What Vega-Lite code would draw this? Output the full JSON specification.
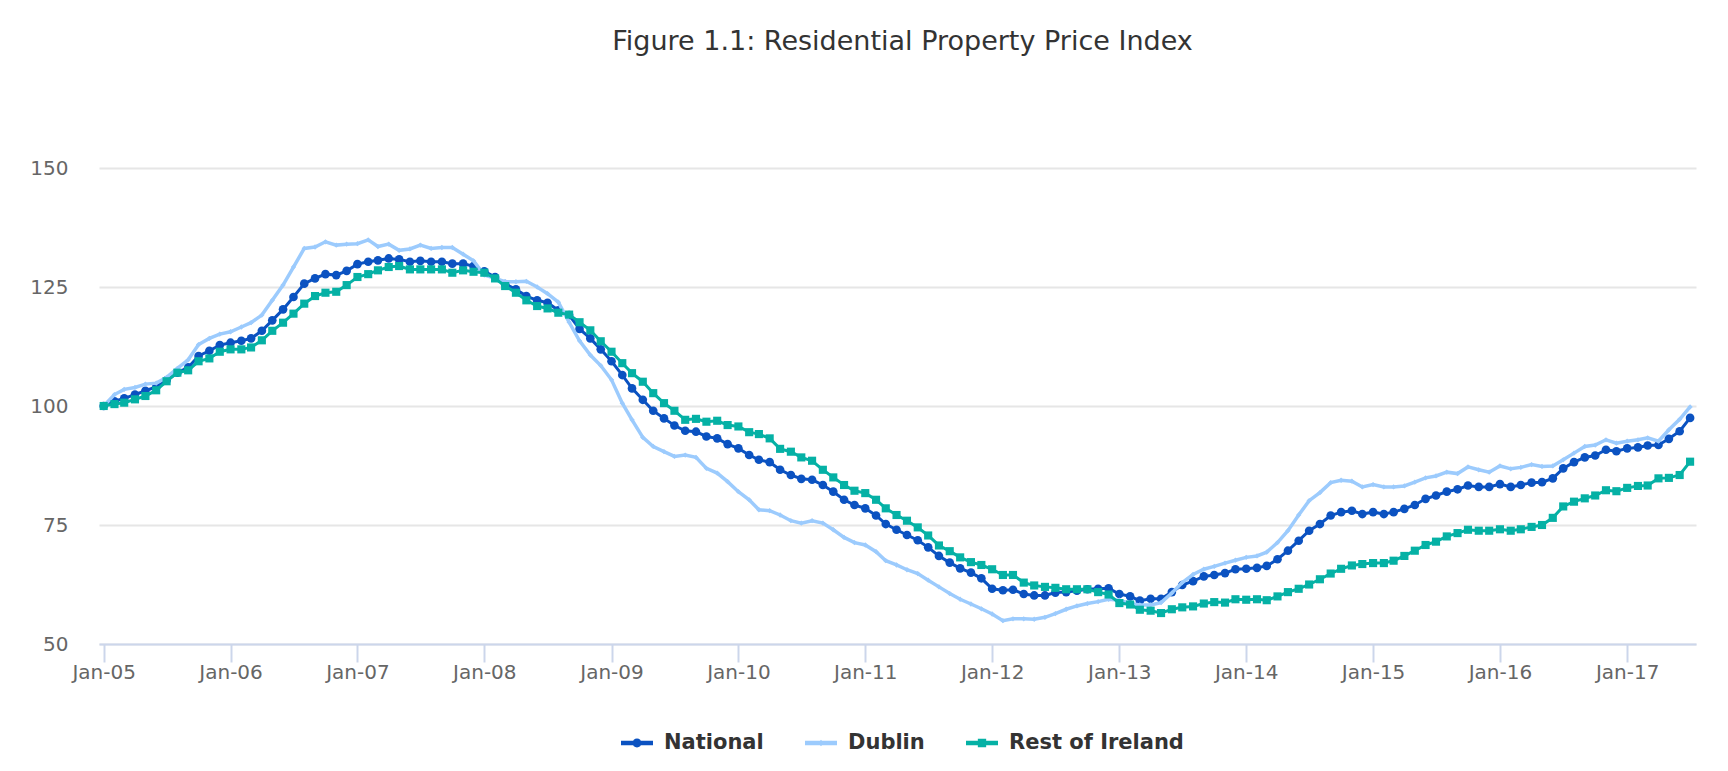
{
  "$schema": "https://vega.github.io/schema/vega-lite/v6.json",
  "description": "Residential Property Price Index, Jan 2005 = 100, National / Dublin / Rest of Ireland",
  "autosize": {"type": "none"},
  "width": 1597,
  "height": 476,
  "padding": {"left": 99, "top": 168, "right": 32, "bottom": 127},
  "background": "white",
  "config": {"view": {"stroke": null}, "font": "DejaVu Sans"},
  "title": {
    "text": "Figure 1.1: Residential Property Price Index",
    "font": "DejaVu Sans",
    "fontSize": 27,
    "fontWeight": "normal",
    "color": "#333333",
    "anchor": "middle",
    "frame": "group",
    "baseline": "alphabetic",
    "offset": 81,
    "dx": 5
  },
  "data": {
    "values": [
      {"date": "2005-01-01", "National": 100.0, "Dublin": 100.0, "Rest of Ireland": 100.0},
      {"date": "2005-02-01", "National": 101.0, "Dublin": 102.4, "Rest of Ireland": 100.4},
      {"date": "2005-03-01", "National": 101.6, "Dublin": 103.5, "Rest of Ireland": 100.7},
      {"date": "2005-04-01", "National": 102.4, "Dublin": 103.9, "Rest of Ireland": 101.4},
      {"date": "2005-05-01", "National": 103.2, "Dublin": 104.6, "Rest of Ireland": 102.1},
      {"date": "2005-06-01", "National": 104.0, "Dublin": 104.8, "Rest of Ireland": 103.3},
      {"date": "2005-07-01", "National": 105.4, "Dublin": 106.0, "Rest of Ireland": 105.2},
      {"date": "2005-08-01", "National": 107.0, "Dublin": 107.9, "Rest of Ireland": 107.0},
      {"date": "2005-09-01", "National": 108.1, "Dublin": 109.7, "Rest of Ireland": 107.5},
      {"date": "2005-10-01", "National": 110.5, "Dublin": 112.9, "Rest of Ireland": 109.4},
      {"date": "2005-11-01", "National": 111.6, "Dublin": 114.2, "Rest of Ireland": 110.0},
      {"date": "2005-12-01", "National": 112.8, "Dublin": 115.1, "Rest of Ireland": 111.4},
      {"date": "2006-01-01", "National": 113.3, "Dublin": 115.6, "Rest of Ireland": 111.9},
      {"date": "2006-02-01", "National": 113.7, "Dublin": 116.6, "Rest of Ireland": 111.9},
      {"date": "2006-03-01", "National": 114.2, "Dublin": 117.5, "Rest of Ireland": 112.3},
      {"date": "2006-04-01", "National": 115.8, "Dublin": 119.1, "Rest of Ireland": 113.8},
      {"date": "2006-05-01", "National": 118.0, "Dublin": 122.2, "Rest of Ireland": 115.8},
      {"date": "2006-06-01", "National": 120.3, "Dublin": 125.4, "Rest of Ireland": 117.5},
      {"date": "2006-07-01", "National": 122.9, "Dublin": 129.2, "Rest of Ireland": 119.4},
      {"date": "2006-08-01", "National": 125.7, "Dublin": 133.1, "Rest of Ireland": 121.5},
      {"date": "2006-09-01", "National": 126.8, "Dublin": 133.4, "Rest of Ireland": 123.1},
      {"date": "2006-10-01", "National": 127.7, "Dublin": 134.5, "Rest of Ireland": 123.8},
      {"date": "2006-11-01", "National": 127.5, "Dublin": 133.8, "Rest of Ireland": 124.0},
      {"date": "2006-12-01", "National": 128.4, "Dublin": 134.0, "Rest of Ireland": 125.4},
      {"date": "2007-01-01", "National": 129.8, "Dublin": 134.1, "Rest of Ireland": 127.1},
      {"date": "2007-02-01", "National": 130.3, "Dublin": 134.9, "Rest of Ireland": 127.7},
      {"date": "2007-03-01", "National": 130.6, "Dublin": 133.5, "Rest of Ireland": 128.5},
      {"date": "2007-04-01", "National": 131.0, "Dublin": 134.0, "Rest of Ireland": 129.2},
      {"date": "2007-05-01", "National": 130.8, "Dublin": 132.7, "Rest of Ireland": 129.4},
      {"date": "2007-06-01", "National": 130.3, "Dublin": 133.0, "Rest of Ireland": 128.7},
      {"date": "2007-07-01", "National": 130.5, "Dublin": 133.8, "Rest of Ireland": 128.7},
      {"date": "2007-08-01", "National": 130.3, "Dublin": 133.1, "Rest of Ireland": 128.7},
      {"date": "2007-09-01", "National": 130.3, "Dublin": 133.3, "Rest of Ireland": 128.7},
      {"date": "2007-10-01", "National": 129.9, "Dublin": 133.3, "Rest of Ireland": 128.0},
      {"date": "2007-11-01", "National": 129.9, "Dublin": 131.9, "Rest of Ireland": 128.5},
      {"date": "2007-12-01", "National": 129.4, "Dublin": 130.5, "Rest of Ireland": 128.2},
      {"date": "2008-01-01", "National": 128.3, "Dublin": 127.5, "Rest of Ireland": 128.0},
      {"date": "2008-02-01", "National": 127.1, "Dublin": 126.8, "Rest of Ireland": 126.8},
      {"date": "2008-03-01", "National": 125.6, "Dublin": 126.1, "Rest of Ireland": 125.2},
      {"date": "2008-04-01", "National": 124.5, "Dublin": 126.1, "Rest of Ireland": 123.8},
      {"date": "2008-05-01", "National": 123.1, "Dublin": 126.2, "Rest of Ireland": 122.2},
      {"date": "2008-06-01", "National": 122.2, "Dublin": 125.0, "Rest of Ireland": 121.0},
      {"date": "2008-07-01", "National": 121.7, "Dublin": 123.6, "Rest of Ireland": 120.5},
      {"date": "2008-08-01", "National": 120.1, "Dublin": 121.8, "Rest of Ireland": 119.6},
      {"date": "2008-09-01", "National": 119.1, "Dublin": 117.6, "Rest of Ireland": 119.2},
      {"date": "2008-10-01", "National": 116.2, "Dublin": 113.7, "Rest of Ireland": 117.6},
      {"date": "2008-11-01", "National": 114.2, "Dublin": 110.7, "Rest of Ireland": 115.9},
      {"date": "2008-12-01", "National": 111.9, "Dublin": 108.5, "Rest of Ireland": 113.6},
      {"date": "2009-01-01", "National": 109.4, "Dublin": 105.5, "Rest of Ireland": 111.4},
      {"date": "2009-02-01", "National": 106.5, "Dublin": 100.6, "Rest of Ireland": 109.0},
      {"date": "2009-03-01", "National": 103.7, "Dublin": 97.1, "Rest of Ireland": 106.9},
      {"date": "2009-04-01", "National": 101.3, "Dublin": 93.4, "Rest of Ireland": 105.1},
      {"date": "2009-05-01", "National": 99.0, "Dublin": 91.5, "Rest of Ireland": 102.7},
      {"date": "2009-06-01", "National": 97.4, "Dublin": 90.4, "Rest of Ireland": 100.6},
      {"date": "2009-07-01", "National": 95.9, "Dublin": 89.4, "Rest of Ireland": 99.0},
      {"date": "2009-08-01", "National": 94.8, "Dublin": 89.7, "Rest of Ireland": 97.1},
      {"date": "2009-09-01", "National": 94.6, "Dublin": 89.2, "Rest of Ireland": 97.3},
      {"date": "2009-10-01", "National": 93.6, "Dublin": 86.9, "Rest of Ireland": 96.7},
      {"date": "2009-11-01", "National": 93.2, "Dublin": 85.9, "Rest of Ireland": 96.9},
      {"date": "2009-12-01", "National": 92.0, "Dublin": 84.1, "Rest of Ireland": 96.0},
      {"date": "2010-01-01", "National": 91.1, "Dublin": 82.0, "Rest of Ireland": 95.7},
      {"date": "2010-02-01", "National": 89.7, "Dublin": 80.3, "Rest of Ireland": 94.5},
      {"date": "2010-03-01", "National": 88.7, "Dublin": 78.2, "Rest of Ireland": 94.1},
      {"date": "2010-04-01", "National": 88.2, "Dublin": 78.0, "Rest of Ireland": 93.2},
      {"date": "2010-05-01", "National": 86.6, "Dublin": 77.1, "Rest of Ireland": 91.0},
      {"date": "2010-06-01", "National": 85.5, "Dublin": 75.9, "Rest of Ireland": 90.4},
      {"date": "2010-07-01", "National": 84.7, "Dublin": 75.4, "Rest of Ireland": 89.2},
      {"date": "2010-08-01", "National": 84.5, "Dublin": 75.9, "Rest of Ireland": 88.5},
      {"date": "2010-09-01", "National": 83.4, "Dublin": 75.4, "Rest of Ireland": 86.6},
      {"date": "2010-10-01", "National": 82.0, "Dublin": 74.0, "Rest of Ireland": 85.0},
      {"date": "2010-11-01", "National": 80.3, "Dublin": 72.4, "Rest of Ireland": 83.4},
      {"date": "2010-12-01", "National": 79.2, "Dublin": 71.3, "Rest of Ireland": 82.2},
      {"date": "2011-01-01", "National": 78.5, "Dublin": 70.8, "Rest of Ireland": 81.7},
      {"date": "2011-02-01", "National": 77.0, "Dublin": 69.4, "Rest of Ireland": 80.3},
      {"date": "2011-03-01", "National": 75.2, "Dublin": 67.5, "Rest of Ireland": 78.5},
      {"date": "2011-04-01", "National": 74.0, "Dublin": 66.6, "Rest of Ireland": 77.1},
      {"date": "2011-05-01", "National": 72.9, "Dublin": 65.6, "Rest of Ireland": 75.9},
      {"date": "2011-06-01", "National": 71.8, "Dublin": 64.8, "Rest of Ireland": 74.5},
      {"date": "2011-07-01", "National": 70.3, "Dublin": 63.4, "Rest of Ireland": 72.8},
      {"date": "2011-08-01", "National": 68.5, "Dublin": 62.0, "Rest of Ireland": 70.7},
      {"date": "2011-09-01", "National": 67.1, "Dublin": 60.6, "Rest of Ireland": 69.5},
      {"date": "2011-10-01", "National": 65.9, "Dublin": 59.4, "Rest of Ireland": 68.2},
      {"date": "2011-11-01", "National": 65.0, "Dublin": 58.4, "Rest of Ireland": 67.2},
      {"date": "2011-12-01", "National": 63.8, "Dublin": 57.4, "Rest of Ireland": 66.6},
      {"date": "2012-01-01", "National": 61.6, "Dublin": 56.3, "Rest of Ireland": 65.7},
      {"date": "2012-02-01", "National": 61.3, "Dublin": 54.9, "Rest of Ireland": 64.5},
      {"date": "2012-03-01", "National": 61.4, "Dublin": 55.3, "Rest of Ireland": 64.5},
      {"date": "2012-04-01", "National": 60.5, "Dublin": 55.3, "Rest of Ireland": 62.9},
      {"date": "2012-05-01", "National": 60.2, "Dublin": 55.2, "Rest of Ireland": 62.3},
      {"date": "2012-06-01", "National": 60.2, "Dublin": 55.6, "Rest of Ireland": 62.0},
      {"date": "2012-07-01", "National": 60.8, "Dublin": 56.4, "Rest of Ireland": 61.8},
      {"date": "2012-08-01", "National": 60.9, "Dublin": 57.3, "Rest of Ireland": 61.5},
      {"date": "2012-09-01", "National": 61.2, "Dublin": 58.0, "Rest of Ireland": 61.5},
      {"date": "2012-10-01", "National": 61.5, "Dublin": 58.5, "Rest of Ireland": 61.5},
      {"date": "2012-11-01", "National": 61.6, "Dublin": 58.9, "Rest of Ireland": 60.9},
      {"date": "2012-12-01", "National": 61.7, "Dublin": 59.4, "Rest of Ireland": 60.4},
      {"date": "2013-01-01", "National": 60.5, "Dublin": 59.2, "Rest of Ireland": 58.6},
      {"date": "2013-02-01", "National": 60.0, "Dublin": 58.5, "Rest of Ireland": 58.3},
      {"date": "2013-03-01", "National": 59.1, "Dublin": 58.2, "Rest of Ireland": 57.2},
      {"date": "2013-04-01", "National": 59.5, "Dublin": 58.2, "Rest of Ireland": 57.0},
      {"date": "2013-05-01", "National": 59.5, "Dublin": 58.7, "Rest of Ireland": 56.5},
      {"date": "2013-06-01", "National": 60.9, "Dublin": 60.7, "Rest of Ireland": 57.3},
      {"date": "2013-07-01", "National": 62.4, "Dublin": 62.9, "Rest of Ireland": 57.7},
      {"date": "2013-08-01", "National": 63.2, "Dublin": 64.6, "Rest of Ireland": 57.9},
      {"date": "2013-09-01", "National": 64.2, "Dublin": 65.7, "Rest of Ireland": 58.5},
      {"date": "2013-10-01", "National": 64.5, "Dublin": 66.3, "Rest of Ireland": 58.8},
      {"date": "2013-11-01", "National": 64.9, "Dublin": 67.0, "Rest of Ireland": 58.7},
      {"date": "2013-12-01", "National": 65.7, "Dublin": 67.6, "Rest of Ireland": 59.4},
      {"date": "2014-01-01", "National": 65.8, "Dublin": 68.2, "Rest of Ireland": 59.3},
      {"date": "2014-02-01", "National": 66.0, "Dublin": 68.5, "Rest of Ireland": 59.4},
      {"date": "2014-03-01", "National": 66.4, "Dublin": 69.3, "Rest of Ireland": 59.2},
      {"date": "2014-04-01", "National": 67.8, "Dublin": 71.3, "Rest of Ireland": 60.0},
      {"date": "2014-05-01", "National": 69.6, "Dublin": 73.8, "Rest of Ireland": 60.9},
      {"date": "2014-06-01", "National": 71.7, "Dublin": 77.1, "Rest of Ireland": 61.6},
      {"date": "2014-07-01", "National": 73.8, "Dublin": 80.1, "Rest of Ireland": 62.5},
      {"date": "2014-08-01", "National": 75.2, "Dublin": 81.8, "Rest of Ireland": 63.6},
      {"date": "2014-09-01", "National": 77.0, "Dublin": 83.9, "Rest of Ireland": 64.8},
      {"date": "2014-10-01", "National": 77.7, "Dublin": 84.4, "Rest of Ireland": 65.8},
      {"date": "2014-11-01", "National": 78.0, "Dublin": 84.2, "Rest of Ireland": 66.5},
      {"date": "2014-12-01", "National": 77.3, "Dublin": 83.0, "Rest of Ireland": 66.8},
      {"date": "2015-01-01", "National": 77.7, "Dublin": 83.5, "Rest of Ireland": 67.0},
      {"date": "2015-02-01", "National": 77.3, "Dublin": 83.0, "Rest of Ireland": 67.0},
      {"date": "2015-03-01", "National": 77.7, "Dublin": 83.0, "Rest of Ireland": 67.5},
      {"date": "2015-04-01", "National": 78.4, "Dublin": 83.2, "Rest of Ireland": 68.5},
      {"date": "2015-05-01", "National": 79.2, "Dublin": 84.0, "Rest of Ireland": 69.6},
      {"date": "2015-06-01", "National": 80.5, "Dublin": 84.9, "Rest of Ireland": 70.8},
      {"date": "2015-07-01", "National": 81.2, "Dublin": 85.3, "Rest of Ireland": 71.5},
      {"date": "2015-08-01", "National": 82.0, "Dublin": 86.1, "Rest of Ireland": 72.6},
      {"date": "2015-09-01", "National": 82.5, "Dublin": 85.8, "Rest of Ireland": 73.3},
      {"date": "2015-10-01", "National": 83.3, "Dublin": 87.2, "Rest of Ireland": 74.0},
      {"date": "2015-11-01", "National": 83.0, "Dublin": 86.6, "Rest of Ireland": 73.8},
      {"date": "2015-12-01", "National": 83.0, "Dublin": 86.1, "Rest of Ireland": 73.8},
      {"date": "2016-01-01", "National": 83.6, "Dublin": 87.4, "Rest of Ireland": 74.1},
      {"date": "2016-02-01", "National": 83.0, "Dublin": 86.8, "Rest of Ireland": 73.8},
      {"date": "2016-03-01", "National": 83.4, "Dublin": 87.1, "Rest of Ireland": 74.1},
      {"date": "2016-04-01", "National": 83.9, "Dublin": 87.7, "Rest of Ireland": 74.6},
      {"date": "2016-05-01", "National": 84.0, "Dublin": 87.3, "Rest of Ireland": 75.0},
      {"date": "2016-06-01", "National": 84.8, "Dublin": 87.4, "Rest of Ireland": 76.5},
      {"date": "2016-07-01", "National": 86.9, "Dublin": 88.7, "Rest of Ireland": 78.9},
      {"date": "2016-08-01", "National": 88.2, "Dublin": 90.1, "Rest of Ireland": 79.9},
      {"date": "2016-09-01", "National": 89.2, "Dublin": 91.5, "Rest of Ireland": 80.6},
      {"date": "2016-10-01", "National": 89.6, "Dublin": 91.8, "Rest of Ireland": 81.2},
      {"date": "2016-11-01", "National": 90.8, "Dublin": 92.9, "Rest of Ireland": 82.3},
      {"date": "2016-12-01", "National": 90.5, "Dublin": 92.2, "Rest of Ireland": 82.1},
      {"date": "2017-01-01", "National": 91.1, "Dublin": 92.6, "Rest of Ireland": 82.8},
      {"date": "2017-02-01", "National": 91.3, "Dublin": 92.9, "Rest of Ireland": 83.2},
      {"date": "2017-03-01", "National": 91.7, "Dublin": 93.3, "Rest of Ireland": 83.3},
      {"date": "2017-04-01", "National": 91.8, "Dublin": 92.6, "Rest of Ireland": 84.8},
      {"date": "2017-05-01", "National": 93.1, "Dublin": 95.0, "Rest of Ireland": 84.9},
      {"date": "2017-06-01", "National": 94.7, "Dublin": 97.2, "Rest of Ireland": 85.5},
      {"date": "2017-07-01", "National": 97.5, "Dublin": 99.8, "Rest of Ireland": 88.3}
    ]
  },
  "transform": [
    {"fold": ["National", "Dublin", "Rest of Ireland"], "as": ["series", "value"]}
  ],
  "encoding": {
    "x": {
      "field": "date",
      "type": "temporal",
      "title": null,
      "scale": {
        "type": "utc",
        "domain": [
          {"year": 2004, "month": 12, "date": 18, "hours": 12, "utc": true},
          {"year": 2017, "month": 7, "date": 18, "utc": true}
        ]
      },
      "axis": {
        "format": "%b-%y",
        "tickCount": {"interval": "year", "step": 1},
        "grid": false,
        "domainColor": "#ccd6eb",
        "domainWidth": 2,
        "tickColor": "#ccd6eb",
        "tickWidth": 2,
        "tickSize": 18,
        "labelFont": "DejaVu Sans",
        "labelFontSize": 20,
        "labelColor": "#666666",
        "labelPadding": 0,
        "labelFlush": false,
        "labelOverlap": false
      }
    },
    "y": {
      "field": "value",
      "type": "quantitative",
      "title": null,
      "scale": {"domain": [50, 150], "nice": false, "zero": false},
      "axis": {
        "values": [50, 75, 100, 125, 150],
        "grid": true,
        "gridColor": "#e6e6e6",
        "gridWidth": 2,
        "domain": false,
        "ticks": false,
        "tickSize": 0,
        "labelFont": "DejaVu Sans",
        "labelFontSize": 20,
        "labelColor": "#666666",
        "labelPadding": 31,
        "labelFlush": false
      }
    },
    "color": {
      "field": "series",
      "type": "nominal",
      "scale": {
        "domain": ["National", "Dublin", "Rest of Ireland"],
        "range": ["#0b52c1", "#9ccbfd", "#05b1a5"]
      },
      "legend": {
        "orient": "none",
        "legendX": 522,
        "legendY": 559,
        "direction": "horizontal",
        "title": null,
        "padding": 0,
        "labelFont": "DejaVu Sans",
        "labelFontSize": 21,
        "labelFontWeight": "bold",
        "labelColor": "#333333",
        "labelLimit": 400,
        "labelOffset": 11,
        "columnPadding": 41,
        "symbolSize": 1024,
        "symbolStrokeWidth": 0,
        "symbolOpacity": 1,
        "encode": {
          "symbols": {
            "update": {
              "shape": {"signal": "datum.value === 'National' ? 'M-1,-0.14L1,-0.14L1,0.14L-1,0.14Z M-0.28,0A0.28,0.28 0 1,1 0.28,0A0.28,0.28 0 1,1 -0.28,0Z' : datum.value === 'Dublin' ? 'M-1,-0.14L1,-0.14L1,0.14L-1,0.14Z M0,-0.2L0.2,0L0,0.2L-0.2,0Z' : 'M-1,-0.14L1,-0.14L1,0.14L-1,0.14Z M-0.26,-0.26L0.26,-0.26L0.26,0.26L-0.26,0.26Z'"},
              "fill": {"scale": "color", "field": "value"},
              "stroke": {"value": "transparent"},
              "opacity": {"value": 1}
            }
          }
        }
      }
    }
  },
  "layer": [
    {
      "transform": [{"filter": "datum.series === 'National'"}],
      "layer": [
        {"mark": {"type": "line", "strokeWidth": 3}, "encoding": {}},
        {"mark": {"type": "point", "shape": "circle", "filled": true, "size": 75, "opacity": 1}}
      ]
    },
    {
      "transform": [{"filter": "datum.series === 'Dublin'"}],
      "layer": [
        {"mark": {"type": "line", "strokeWidth": 3.5}, "encoding": {}},
        {"mark": {"type": "point", "shape": "diamond", "filled": true, "size": 28, "opacity": 1}}
      ]
    },
    {
      "transform": [{"filter": "datum.series === 'Rest of Ireland'"}],
      "layer": [
        {"mark": {"type": "line", "strokeWidth": 3}, "encoding": {}},
        {"mark": {"type": "point", "shape": "square", "filled": true, "size": 66, "opacity": 1}}
      ]
    }
  ]
}
